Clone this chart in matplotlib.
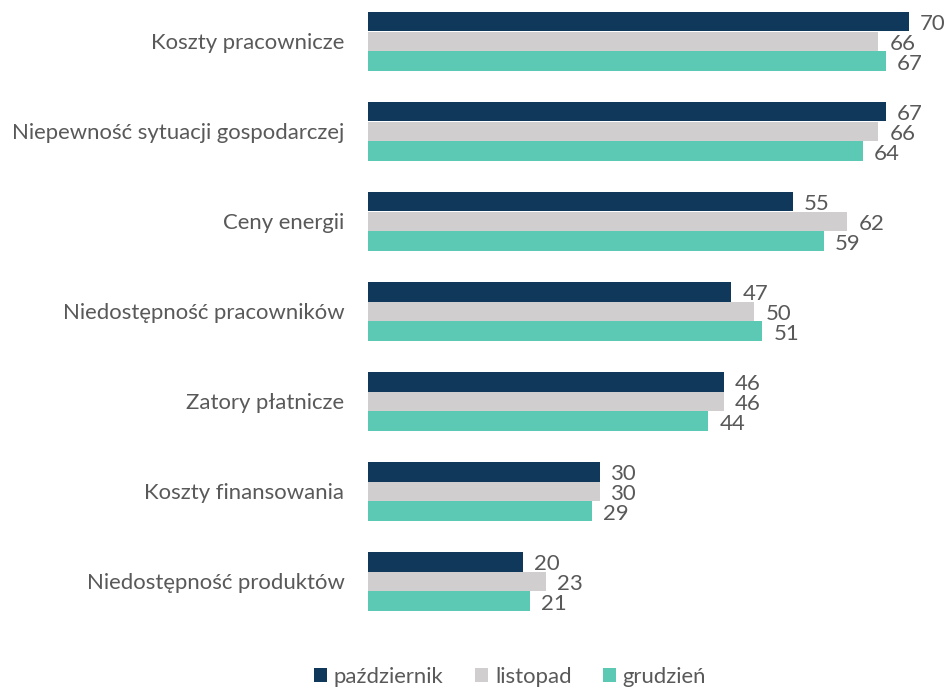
import matplotlib
matplotlib.use("Agg")
import matplotlib.pyplot as plt
from matplotlib.patches import Patch
import numpy as np

categories = ["Koszty pracownicze", "Niepewność sytuacji gospodarczej", "Ceny energii",
              "Niedostępność pracowników", "Zatory płatnicze", "Koszty finansowania",
              "Niedostępność produktów"]
series_names = ["październik", "listopad", "grudzień"]
pazdziernik = [70, 67, 55, 47, 46, 30, 20]
listopad = [66, 66, 62, 50, 46, 30, 23]
grudzien = [67, 64, 59, 51, 44, 29, 21]
colors = ["#10385B", "#D0CECE", "#5BC9B3"]

plt.rcParams['font.family'] = ['Lato', 'DejaVu Sans']
text_color = "#595959"
fs = 15.9

fig = plt.figure(figsize=(9.52, 6.88), dpi=100)
W, H = 952, 688
ax = fig.add_axes([368 / W, 1 - 630 / H, (940 - 368) / W, 630 / H])

y = np.arange(len(categories))
h = 0.222
data = [pazdziernik, listopad, grudzien]
for k, (vals, c) in enumerate(zip(data, colors)):
    pos = y + (k - 1) * h
    ax.barh(pos, vals, height=h, color=c, edgecolor='none')
    for p, v in zip(pos, vals):
        ax.annotate(str(v), (v, p), xytext=(8, -1.5), textcoords='offset points',
                    va='center', ha='left', fontsize=fs, color=text_color)

ax.set_xlim(0, 74)
ax.set_ylim(6.539, -0.461)
ax.set_yticks(y)
ax.set_yticklabels(categories, fontsize=fs, color=text_color)
ax.tick_params(axis='y', length=0, pad=17)
ax.set_xticks([])
for s in ax.spines.values():
    s.set_visible(False)

handles = [Patch(facecolor=c, label=n) for c, n in zip(colors, series_names)]
fig.legend(handles=handles, loc='center', bbox_to_anchor=(510 / W, 1 - 677 / H), ncol=3,
           frameon=False, fontsize=fs, labelcolor=text_color, handlelength=0.62,
           handleheight=0.62, handletextpad=0.3, columnspacing=1.4)

fig.savefig("out.png", dpi=100)
